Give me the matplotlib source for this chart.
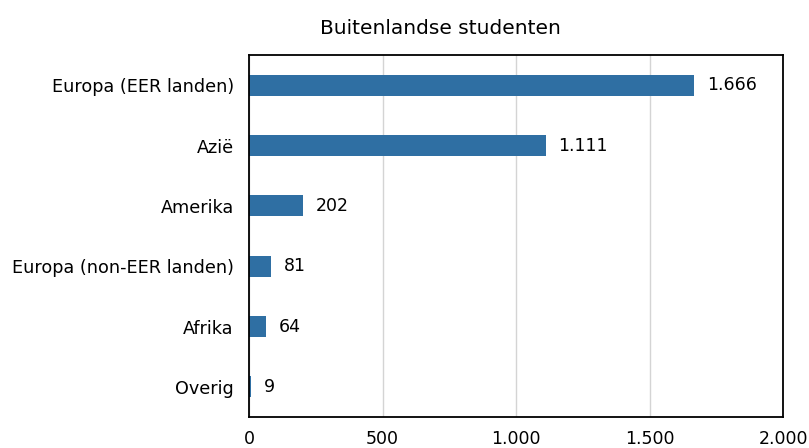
import matplotlib.pyplot as plt
from matplotlib.ticker import FuncFormatter

plt.rcParams["font.family"] = ["DejaVu Sans"]

categories = ["Europa (EER landen)", "Azië", "Amerika", "Europa (non-EER landen)", "Afrika", "Overig"]
values = [1666, 1111, 202, 81, 64, 9]
x_ticks = [0, 500, 1000, 1500, 2000]


def dutch(x, pos=None):
    return f"{int(x):,}".replace(",", ".")


fig = plt.figure(figsize=(8.09, 4.48), dpi=100)
ax = fig.add_axes([249 / 809, 1 - 417 / 448, 534 / 809, 362 / 448])

y = list(range(len(categories)))
ax.barh(y, values, height=0.35, color="#2f6fa3", zorder=2)
for yi, v in zip(y, values):
    ax.text(v + 48, yi, dutch(v), va="center", ha="left", fontsize=12.5)

ax.set_ylim(len(categories) - 0.5, -0.5)
ax.set_yticks(y)
ax.set_yticklabels(categories, fontsize=12.7)
ax.set_xlim(0, 2000)
ax.set_xticks(x_ticks)
ax.xaxis.set_major_formatter(FuncFormatter(dutch))
ax.tick_params(axis="x", length=0, pad=9.5, labelsize=12.5)
ax.tick_params(axis="y", length=0, pad=11)
ax.grid(axis="x", color="#d4d4d4", linewidth=1, zorder=0)
for s in ax.spines.values():
    s.set_color("black")
    s.set_linewidth(1.3)

# title sits left of the axes centre in the reference
fig.text(440 / 809, 1 - 28 / 448, "Buitenlandse studenten", fontsize=14.5,
         ha="center", va="center")

fig.savefig("out.png", dpi=100)
